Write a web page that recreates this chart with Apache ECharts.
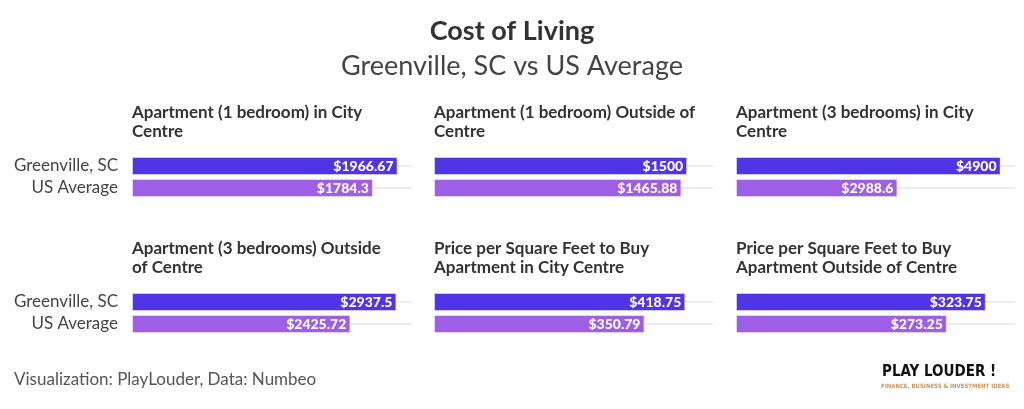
<!DOCTYPE html>
<html><head><meta charset="utf-8">
<script src="https://cdn.jsdelivr.net/npm/echarts@6/dist/echarts.min.js"></script>
<style>html,body{margin:0;padding:0;background:#fff}#c{width:1024px;height:409px}</style>
</head><body><div id="c"></div>
<script>
const categories = ["Greenville, SC", "US Average"];
const panelTitles = [
  "Apartment (1 bedroom) in City\nCentre",
  "Apartment (1 bedroom) Outside of\nCentre",
  "Apartment (3 bedrooms) in City\nCentre",
  "Apartment (3 bedrooms) Outside\nof Centre",
  "Price per Square Feet to Buy\nApartment in City Centre",
  "Price per Square Feet to Buy\nApartment Outside of Centre"
];
const greenvilleValues = [1966.67, 1500, 4900, 2937.5, 418.75, 323.75];
const usAverageValues = [1784.3, 1465.88, 2988.6, 2425.72, 350.79, 273.25];
const axisMax = [2000, 1600, 5000, 3000, 450, 350];

const FONT = 'Lato';
const colLeft = [132, 434, 736];
const rowTop = [155, 291];
const titleTop = [103, 239];
const PW = 270;
const colors = ['#5035E6', '#9E5FE6'];

const grids = [], xAxes = [], yAxes = [], series = [], titles = [];
titles.push({text: 'Cost of Living', left: 'center', top: 13,
  textStyle: {fontFamily: FONT, fontSize: 27, fontWeight: 'bold', color: '#333'}});
titles.push({text: 'Greenville, SC vs US Average', left: 'center', top: 48,
  textStyle: {fontFamily: FONT, fontSize: 27, fontWeight: 'normal', color: '#444'}});

for (let i = 0; i < 6; i++) {
  const c = i % 3, r = Math.floor(i / 3);
  grids.push({left: colLeft[c], top: rowTop[r], width: PW, height: 44, containLabel: false});
  titles.push({text: panelTitles[i], left: colLeft[c], top: titleTop[r], padding: 0,
    textStyle: {fontFamily: FONT, fontSize: 17, fontWeight: 'bold', color: '#333', lineHeight: 19}});
  xAxes.push({type: 'value', gridIndex: i, min: 0, max: axisMax[i], show: false});
  yAxes.push({type: 'category', gridIndex: i, data: categories, inverse: true, offset: 9,
    axisLine: {show: false},
    axisTick: {show: true, inside: true, length: PW + 9, alignWithLabel: true, interval: 0,
      lineStyle: {color: '#ececec', width: 2}},
    axisLabel: {show: c === 0, interval: 0, hideOverlap: false, margin: 5,
      fontFamily: FONT, fontSize: 17, color: '#444'}});
  series.push({type: 'bar', xAxisIndex: i, yAxisIndex: i, barCategoryGap: '18%',
    data: [greenvilleValues[i], usAverageValues[i]].map((v, k) => ({
      value: v,
      itemStyle: {color: colors[k], borderColor: 'rgba(255,255,255,0.45)', borderWidth: 1}
    })),
    label: {show: true, position: 'insideRight', distance: 4, color: '#fff',
      fontFamily: FONT, fontSize: 14, fontWeight: 900,
      formatter: p => '$' + p.value},
    animation: false, silent: true});
}

const chart = echarts.init(document.getElementById('c'), null, {renderer: 'canvas'});
chart.setOption({
  animation: false,
  title: titles,
  grid: grids, xAxis: xAxes, yAxis: yAxes, series: series,
  graphic: [
    {type: 'text', left: 14, top: 371, style: {text: 'Visualization: PlayLouder, Data: Numbeo',
      font: '17px ' + FONT, fill: '#555'}},
    {type: 'text', left: 882, top: 365, style: {text: 'PLAY LOUDER !',
      font: 'bold 15px "DejaVu Sans Condensed"', fill: '#111'}},
    {type: 'text', left: 881, top: 383, style: {text: 'FINANCE, BUSINESS & INVESTMENT IDEAS',
      font: 'bold 6px "DejaVu Sans Condensed"', fill: '#C8955E'}}
  ]
});
</script></body></html>
